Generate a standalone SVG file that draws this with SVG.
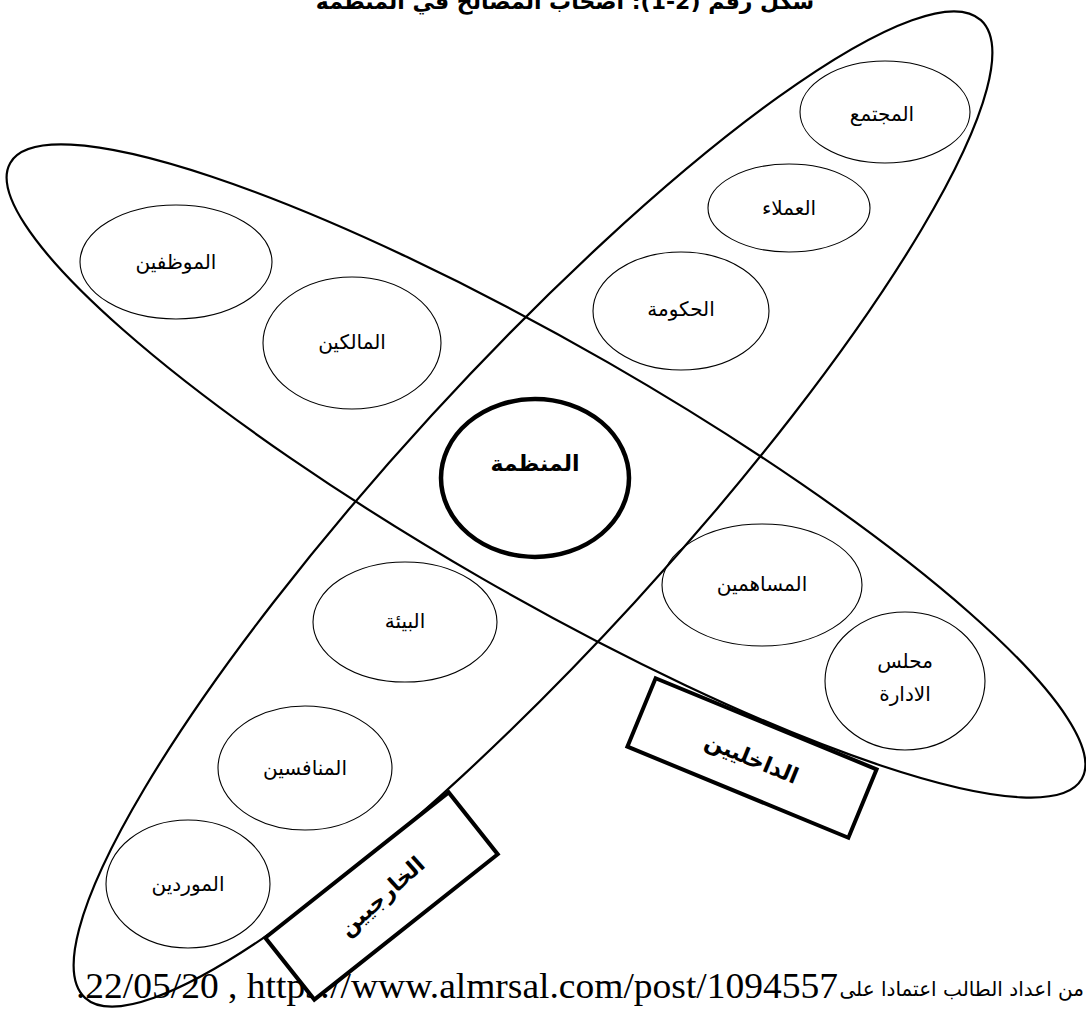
<svg xmlns="http://www.w3.org/2000/svg" width="1086" height="1012" viewBox="0 0 1086 1012">
<style>
.big{fill:none;stroke:#000;stroke-width:2.2}
.node{fill:none;stroke:#000;stroke-width:1.1}
.core{fill:none;stroke:#000;stroke-width:4.5}
.box{fill:#fff;stroke:#000;stroke-width:4}
.lbl{font-family:"DejaVu Sans",sans-serif;font-size:20px;fill:#000;text-anchor:middle}
.bold{font-family:"DejaVu Sans",sans-serif;font-size:22px;font-weight:bold;fill:#000;text-anchor:middle}
</style>
<rect width="1086" height="1012" fill="#fff"/>
<text x="565" y="9" direction="rtl" class="bold" font-size="22">شكل رقم (2-1): اصحاب المصالح في المنظمة</text>
<g id="connectors">
<ellipse class="big" cx="546" cy="471" rx="618" ry="125" transform="rotate(29.9 546 471)"/>
<ellipse class="big" cx="533" cy="509" rx="663" ry="138" transform="rotate(-47.5 533 509)"/>
</g>
<g id="n-employees"><ellipse class="node" cx="176" cy="262" rx="96" ry="57"/><text class="lbl" x="176" y="269">الموظفين</text></g>
<g id="n-owners"><ellipse class="node" cx="352" cy="343" rx="89" ry="66"/><text class="lbl" x="352" y="349">المالكين</text></g>
<g id="n-gov"><ellipse class="node" cx="681" cy="311" rx="88" ry="59"/><text class="lbl" x="681" y="316">الحكومة</text></g>
<g id="n-clients"><ellipse class="node" cx="789" cy="208" rx="81" ry="44"/><text class="lbl" x="789" y="215">العملاء</text></g>
<g id="n-society"><ellipse class="node" cx="885" cy="112" rx="85" ry="51"/><text class="lbl" x="882" y="121">المجتمع</text></g>
<g id="n-org"><ellipse class="core" cx="535" cy="478" rx="94" ry="79"/><text class="bold" x="535" y="471">المنظمة</text></g>
<g id="n-env"><ellipse class="node" cx="405" cy="622" rx="92" ry="60"/><text class="lbl" x="405" y="628">البيئة</text></g>
<g id="n-share"><ellipse class="node" cx="762" cy="585" rx="100" ry="61"/><text class="lbl" x="762" y="591">المساهمين</text></g>
<g id="n-board"><ellipse class="node" cx="905" cy="681" rx="80" ry="69"/><text class="lbl" x="905" y="668">محلس</text><text class="lbl" x="905" y="701">الادارة</text></g>
<g id="n-comp"><ellipse class="node" cx="305" cy="768" rx="87" ry="62"/><text class="lbl" x="305" y="775">المنافسين</text></g>
<g id="n-supp"><ellipse class="node" cx="188" cy="884" rx="82" ry="64"/><text class="lbl" x="188" y="891">الموردين</text></g>
<text x="838" y="998" font-family="Liberation Serif, serif" font-size="35" textLength="762" lengthAdjust="spacingAndGlyphs" text-anchor="end">.22/05/20 , https://www.almrsal.com/post/1094557</text>
<text x="1084" y="996" font-family="DejaVu Sans, sans-serif" font-size="20" text-anchor="end">من اعداد الطالب اعتمادا على</text>
<g id="n-internal"><rect class="box" x="-119.5" y="-37" width="239" height="74" transform="translate(752 758) rotate(22.4)"/><text class="bold" x="0" y="8" transform="translate(752 758) rotate(22.4)">الداخليين</text></g>
<g id="n-external"><rect class="box" x="-117" y="-39.5" width="234" height="79" transform="translate(381.5 896) rotate(-38.4)"/><text class="bold" x="0" y="8" transform="translate(381.5 896) rotate(-42)">الخارجيين</text></g>
</svg>
